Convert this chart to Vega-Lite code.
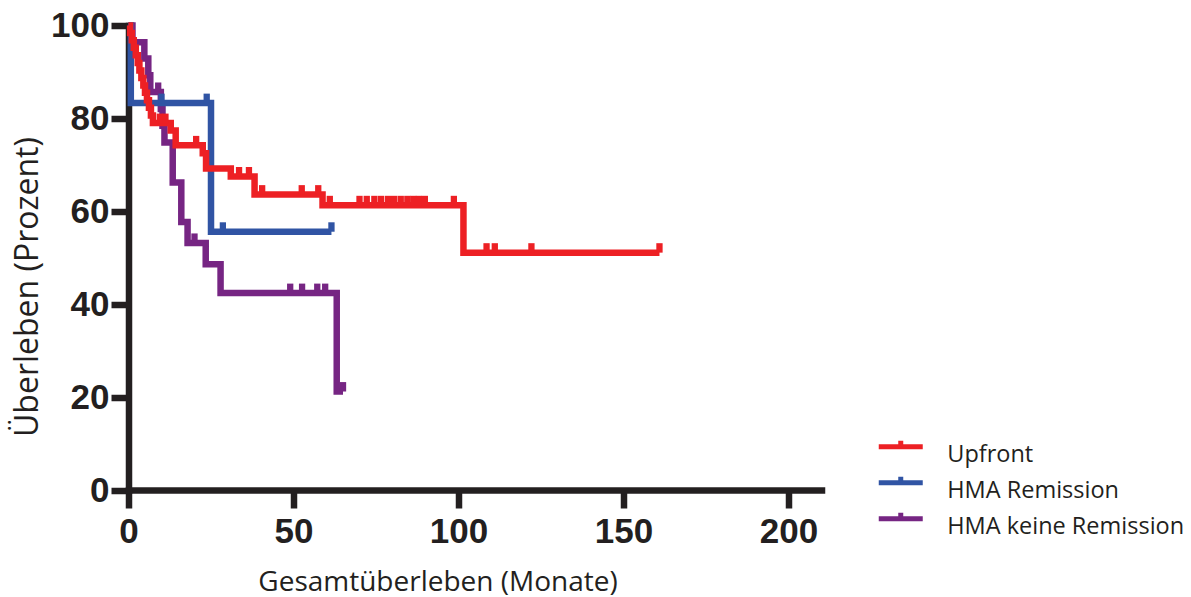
{
  "$schema": "https://vega.github.io/schema/vega-lite/v6.json",
  "width": 693,
  "height": 464.5,
  "autosize": {"type": "none"},
  "padding": {"left": 128.5, "top": 25.5, "right": 369.5, "bottom": 107},
  "background": "white",
  "config": {
    "view": {"stroke": null},
    "axis": {
      "grid": false,
      "domainColor": "#231f20",
      "domainWidth": 6.5,
      "domainCap": "square",
      "tickColor": "#231f20",
      "tickWidth": 6.5,
      "labelFont": "Liberation Sans",
      "labelFontSize": 35,
      "labelFontWeight": "bold",
      "labelColor": "#231f20",
      "labelFlush": false,
      "labelOverlap": false,
      "titleFont": "Open Sans",
      "titleFontSize": 28,
      "titleFontWeight": "normal",
      "titleColor": "#231f20",
      "titleBaseline": "alphabetic",
      "titleAlign": "center"
    }
  },
  "data": {
    "values": [
      {"g": "Upfront", "t": 0, "s": 100, "c": 0},
      {"g": "Upfront", "t": 0.5, "s": 98.4, "c": 0},
      {"g": "Upfront", "t": 1.0, "s": 96.8, "c": 0},
      {"g": "Upfront", "t": 1.6, "s": 95.2, "c": 0},
      {"g": "Upfront", "t": 2.2, "s": 93.6, "c": 0},
      {"g": "Upfront", "t": 2.8, "s": 91.9, "c": 0},
      {"g": "Upfront", "t": 3.3, "s": 90.3, "c": 0},
      {"g": "Upfront", "t": 3.9, "s": 88.7, "c": 0},
      {"g": "Upfront", "t": 4.5, "s": 87.1, "c": 0},
      {"g": "Upfront", "t": 5.0, "s": 85.5, "c": 0},
      {"g": "Upfront", "t": 5.6, "s": 83.9, "c": 0},
      {"g": "Upfront", "t": 6.2, "s": 82.3, "c": 0},
      {"g": "Upfront", "t": 6.8, "s": 80.6, "c": 0},
      {"g": "Upfront", "t": 7.4, "s": 79.0, "c": 0},
      {"g": "Upfront", "t": 9.5, "s": 79.0, "c": 1},
      {"g": "Upfront", "t": 11.2, "s": 79.0, "c": 1},
      {"g": "Upfront", "t": 12.8, "s": 77.4, "c": 0},
      {"g": "Upfront", "t": 14.3, "s": 74.2, "c": 0},
      {"g": "Upfront", "t": 20.5, "s": 74.2, "c": 1},
      {"g": "Upfront", "t": 22.5, "s": 72.5, "c": 0},
      {"g": "Upfront", "t": 23.5, "s": 69.2, "c": 0},
      {"g": "Upfront", "t": 31.0, "s": 67.5, "c": 0},
      {"g": "Upfront", "t": 33.5, "s": 67.5, "c": 1},
      {"g": "Upfront", "t": 36.5, "s": 67.5, "c": 1},
      {"g": "Upfront", "t": 38.2, "s": 63.6, "c": 0},
      {"g": "Upfront", "t": 40.5, "s": 63.6, "c": 1},
      {"g": "Upfront", "t": 52.5, "s": 63.6, "c": 1},
      {"g": "Upfront", "t": 57.5, "s": 63.6, "c": 1},
      {"g": "Upfront", "t": 58.8, "s": 61.3, "c": 0},
      {"g": "Upfront", "t": 61.0, "s": 61.3, "c": 1},
      {"g": "Upfront", "t": 70.0, "s": 61.3, "c": 1},
      {"g": "Upfront", "t": 72.2, "s": 61.3, "c": 1},
      {"g": "Upfront", "t": 74.5, "s": 61.3, "c": 1},
      {"g": "Upfront", "t": 76.5, "s": 61.3, "c": 1},
      {"g": "Upfront", "t": 78.6, "s": 61.3, "c": 1},
      {"g": "Upfront", "t": 80.5, "s": 61.3, "c": 1},
      {"g": "Upfront", "t": 82.5, "s": 61.3, "c": 1},
      {"g": "Upfront", "t": 84.5, "s": 61.3, "c": 1},
      {"g": "Upfront", "t": 86.3, "s": 61.3, "c": 1},
      {"g": "Upfront", "t": 88.0, "s": 61.3, "c": 1},
      {"g": "Upfront", "t": 89.8, "s": 61.3, "c": 1},
      {"g": "Upfront", "t": 98.6, "s": 61.3, "c": 1},
      {"g": "Upfront", "t": 101.5, "s": 51.1, "c": 0},
      {"g": "Upfront", "t": 108.5, "s": 51.1, "c": 1},
      {"g": "Upfront", "t": 111.0, "s": 51.1, "c": 1},
      {"g": "Upfront", "t": 122.1, "s": 51.1, "c": 1},
      {"g": "Upfront", "t": 160.9, "s": 51.1, "c": 1},

      {"g": "HMA Remission", "t": 0, "s": 100, "c": 0},
      {"g": "HMA Remission", "t": 0.7, "s": 83.3, "c": 0},
      {"g": "HMA Remission", "t": 10.0, "s": 83.3, "c": 1},
      {"g": "HMA Remission", "t": 23.7, "s": 83.3, "c": 1},
      {"g": "HMA Remission", "t": 25.0, "s": 55.6, "c": 0},
      {"g": "HMA Remission", "t": 28.6, "s": 55.6, "c": 1},
      {"g": "HMA Remission", "t": 61.5, "s": 55.6, "c": 1},

      {"g": "HMA keine Remission", "t": 0, "s": 100, "c": 0},
      {"g": "HMA keine Remission", "t": 1.2, "s": 96.4, "c": 0},
      {"g": "HMA keine Remission", "t": 4.8, "s": 92.9, "c": 0},
      {"g": "HMA keine Remission", "t": 6.0, "s": 89.3, "c": 0},
      {"g": "HMA keine Remission", "t": 6.6, "s": 85.7, "c": 0},
      {"g": "HMA keine Remission", "t": 9.0, "s": 85.7, "c": 1},
      {"g": "HMA keine Remission", "t": 9.8, "s": 82.0, "c": 0},
      {"g": "HMA keine Remission", "t": 10.3, "s": 78.4, "c": 0},
      {"g": "HMA keine Remission", "t": 10.9, "s": 74.8, "c": 0},
      {"g": "HMA keine Remission", "t": 13.4, "s": 66.2, "c": 0},
      {"g": "HMA keine Remission", "t": 16.0, "s": 57.7, "c": 0},
      {"g": "HMA keine Remission", "t": 17.9, "s": 53.2, "c": 0},
      {"g": "HMA keine Remission", "t": 20.0, "s": 53.2, "c": 1},
      {"g": "HMA keine Remission", "t": 23.4, "s": 48.6, "c": 0},
      {"g": "HMA keine Remission", "t": 27.9, "s": 42.4, "c": 0},
      {"g": "HMA keine Remission", "t": 49.0, "s": 42.4, "c": 1},
      {"g": "HMA keine Remission", "t": 52.6, "s": 42.4, "c": 1},
      {"g": "HMA keine Remission", "t": 57.2, "s": 42.4, "c": 1},
      {"g": "HMA keine Remission", "t": 59.6, "s": 42.4, "c": 1},
      {"g": "HMA keine Remission", "t": 63.1, "s": 21.2, "c": 0},
      {"g": "HMA keine Remission", "t": 65.0, "s": 21.2, "c": 1}
    ]
  },
  "encoding": {
    "x": {
      "field": "t",
      "type": "quantitative",
      "scale": {"domain": [0, 210], "nice": false, "zero": false},
      "axis": {
        "values": [0, 50, 100, 150, 200],
        "tickSize": 18,
        "labelPadding": 6,
        "title": "Gesamtüberleben (Monate)",
        "titleX": 309,
        "titleY": 100
      }
    },
    "y": {
      "field": "s",
      "type": "quantitative",
      "scale": {"domain": [0, 100], "nice": false},
      "axis": {
        "values": [0, 20, 40, 60, 80, 100],
        "tickSize": 17.5,
        "labelPadding": 2,
        "title": "Überleben (Prozent)",
        "titleFontSize": 32,
        "titleAngle": 270,
        "titleX": -91,
        "titleY": 261
      }
    }
  },
  "layer": [
    {
      "transform": [{"filter": "datum.g === 'HMA keine Remission'"}],
      "mark": {"type": "line", "interpolate": "step-after", "strokeWidth": 6.5, "strokeJoin": "miter", "strokeCap": "butt"},
      "encoding": {
        "color": {
          "field": "g",
          "type": "nominal",
          "scale": {
            "domain": ["Upfront", "HMA Remission", "HMA keine Remission"],
            "range": ["#ed2024", "#3054a4", "#762583"]
          },
          "legend": {
            "orient": "none",
            "direction": "vertical",
            "legendX": 755.75,
            "legendY": 413,
            "title": null,
            "padding": 0,
            "symbolType": "M-1.6,-0.6H1.6M0,-0.6V-1.04",
            "symbolSize": 756.25,
            "symbolStrokeWidth": 5,
            "labelFont": "Open Sans",
            "labelFontSize": 23.5,
            "labelColor": "#231f20",
            "labelOffset": 30,
            "labelLimit": 400,
            "rowPadding": 0
          }
        }
      }
    },
    {
      "transform": [{"filter": "datum.g === 'HMA Remission'"}],
      "mark": {"type": "line", "interpolate": "step-after", "strokeWidth": 6.5, "strokeJoin": "miter", "strokeCap": "butt"},
      "encoding": {
        "color": {"field": "g", "type": "nominal"}
      }
    },
    {
      "transform": [{"filter": "datum.g === 'Upfront'"}],
      "mark": {"type": "line", "interpolate": "step-after", "strokeWidth": 6.5, "strokeJoin": "miter", "strokeCap": "butt"},
      "encoding": {
        "color": {"field": "g", "type": "nominal"}
      }
    },
    {
      "transform": [
        {"filter": "datum.c === 1"},
        {"calculate": "datum.g", "as": "series"}
      ],
      "mark": {"type": "point", "shape": "M-0.45,-1.35H0.45V0H-0.45Z", "filled": true, "size": 196, "opacity": 1, "strokeWidth": 0},
      "encoding": {
        "fill": {
          "field": "series",
          "type": "nominal",
          "scale": {
            "domain": ["Upfront", "HMA Remission", "HMA keine Remission"],
            "range": ["#ed2024", "#3054a4", "#762583"]
          },
          "legend": null
        }
      }
    }
  ]
}
